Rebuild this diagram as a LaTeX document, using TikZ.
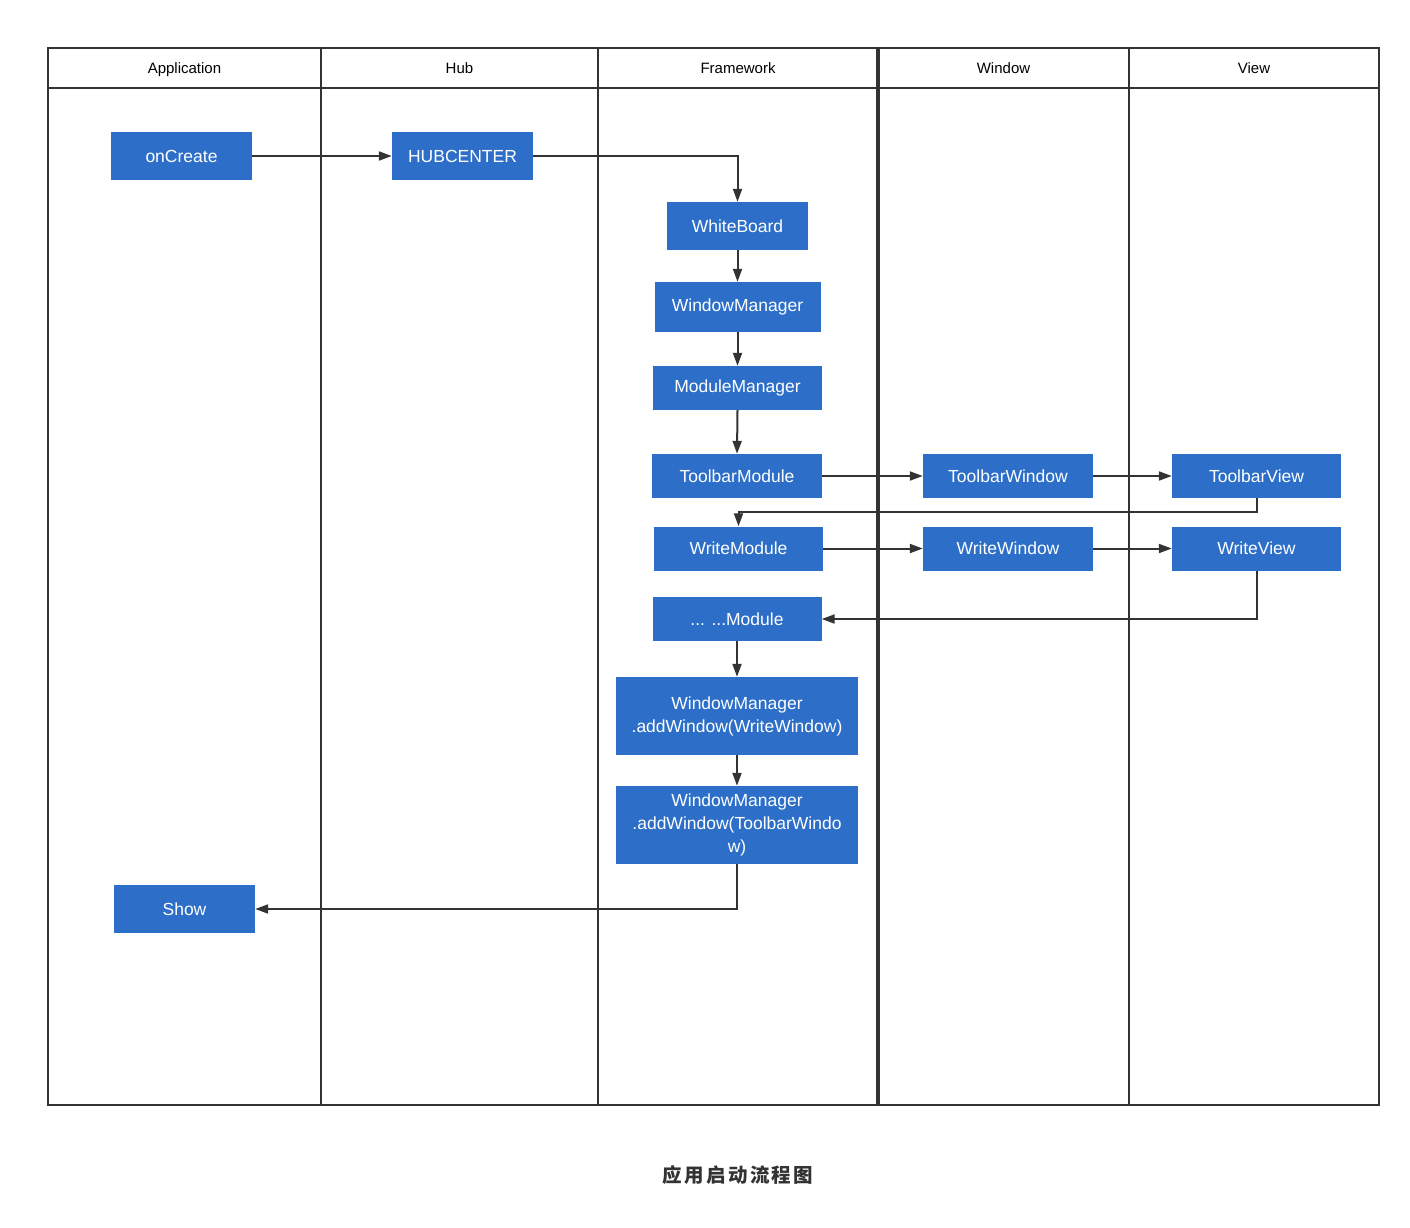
\documentclass[tikz,border=0pt]{standalone}
\usepackage{fontspec}
\setmainfont{Liberation Sans}
\newfontfamily\cjkfont{Noto Sans CJK SC}
\usetikzlibrary{arrows.meta}
\definecolor{boxblue}{RGB}{45,111,200}
\definecolor{ink}{RGB}{51,51,51}
\begin{document}
\begin{tikzpicture}[x=1pt,y=-1pt,
  stepbox/.style={fill=boxblue, text=white, inner sep=0pt, align=center,
    font=\fontsize{17.5}{23}\selectfont},
  lane/.style={draw=ink, line width=1.9pt},
  head/.style={font=\fontsize{15}{18}\selectfont, text=black, anchor=base},
  flow/.style={draw=ink, line width=2pt, -{Triangle[length=13pt,width=9pt]}},
]
\useasboundingbox[fill=white] (0,0) rectangle (1410,1227);

% swimlanes
\draw[lane] (48,48) rectangle (1379,1105);
\draw[lane] (48,88) -- (1379,88);
\draw[lane] (321,48) -- (321,1105);
\draw[lane] (598,48) -- (598,1105);
\draw[lane, line width=3.6pt] (878,48) -- (878,1105);
\draw[lane] (1129,48) -- (1129,1105);

\node[head] (hApp) at (184.5,73) {Application};
\node[head] (hHub) at (459.5,73) {Hub};
\node[head] (hFw)  at (738,73) {Framework};
\node[head] (hWin) at (1003.5,73) {Window};
\node[head] (hView) at (1254,73) {View};

% process steps
\node[stepbox, minimum width=141, minimum height=48] (oncreate) at (181.5,156) {onCreate};
\node[stepbox, minimum width=141, minimum height=48] (hub) at (462.5,156) {HUBCENTER};
\node[stepbox, minimum width=141, minimum height=48] (wb) at (737.5,226) {WhiteBoard};
\node[stepbox, minimum width=166, minimum height=50] (wm) at (737.5,307) {WindowManager};
\node[stepbox, minimum width=169, minimum height=44] (mm) at (737.5,388) {ModuleManager};
\node[stepbox, minimum width=170, minimum height=44] (tm) at (737,476) {ToolbarModule};
\node[stepbox, minimum width=170, minimum height=44] (tw) at (1008,476) {ToolbarWindow};
\node[stepbox, minimum width=169, minimum height=44] (tv) at (1256.5,476) {ToolbarView};
\node[stepbox, minimum width=169, minimum height=44] (wrm) at (738.5,548.5) {WriteModule};
\node[stepbox, minimum width=170, minimum height=44] (ww) at (1008,548.5) {WriteWindow};
\node[stepbox, minimum width=169, minimum height=44] (wv) at (1256.5,548.5) {WriteView};
\node[stepbox, minimum width=169, minimum height=44] (dm) at (737,619) {... ...Module};
\node[stepbox, minimum width=242, minimum height=78] (addw) at (737,716)
  {WindowManager\\.addWindow(WriteWindow)};
\node[stepbox, minimum width=242, minimum height=78] (addt) at (737,825)
  {WindowManager\\.addWindow(ToolbarWindo\\w)};
\node[stepbox, minimum width=141, minimum height=48] (show) at (184.5,909) {Show};

% connectors
\draw[flow] (oncreate) -- (hub);
\draw[flow] (hub.east) -| (wb.north);
\draw[flow] (wb) -- (wm);
\draw[flow] (wm) -- (mm);
\draw[flow] (mm.south) -- (tm.north);
\draw[flow] (tm) -- (tw);
\draw[flow] (tw) -- (tv);
\draw[flow] (tv.south) -- ++(0,14) -| (wrm.north);
\draw[flow] (wrm) -- (ww);
\draw[flow] (ww) -- (wv);
\draw[flow] (wv.south) |- (dm.east);
\draw[flow] (dm) -- (addw);
\draw[flow] (addw) -- (addt);
\draw[flow] (addt.south) |- (show.east);

% caption
\node[font=\cjkfont\fontsize{19.5}{24}\selectfont\bfseries\addfontfeature{LetterSpace=12}, text=ink]
  (title) at (738,1175) {应用启动流程图};
\end{tikzpicture}
\end{document}
